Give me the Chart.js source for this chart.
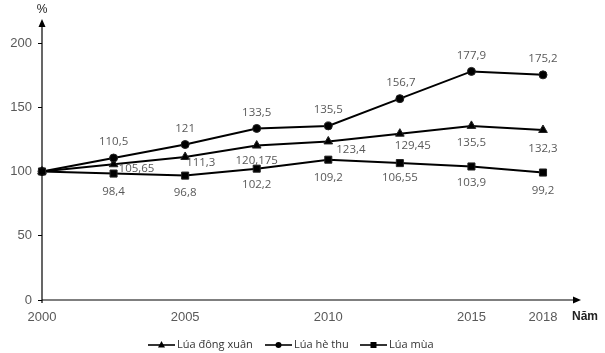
<!DOCTYPE html>
<html>
<head>
<meta charset="utf-8">
<script src="https://cdn.jsdelivr.net/npm/chart.js@4"></script>
<style>
html,body{margin:0;padding:0;background:#fff;}
#wrap{width:605px;height:353px;position:relative;}
</style>
</head>
<body>
<div id="wrap"><canvas id="c" width="605" height="353"></canvas></div>
<script>
// ---- data ----
const categories = ['2000', '', '2005', '', '2010', '', '2015', '2018'];
const yTicks = [0, 50, 100, 150, 200];
const seriesNames = ['Lúa đông xuân', 'Lúa hè thu', 'Lúa mùa'];
const dongXuan = [100, 105.65, 111.3, 120.175, 123.4, 129.45, 135.5, 132.3];
const heThu = [100, 110.5, 121, 133.5, 135.5, 156.7, 177.9, 175.2];
const luaMua = [100, 98.4, 96.8, 102.2, 109.2, 106.55, 103.9, 99.2];
const yUnit = '%';
const xUnit = 'Năm';

const fmt = v => String(v).replace('.', ',');
const labelFont = '11.5px "Open Sans", sans-serif';
const labelColor = '#595959';

// label placement per series: [align, dx, dy] per point (style only)
const placements = [
  [null, ['left', 5, 4], ['left', 1, 6], ['center', 0, 15], ['left', 8, 8], ['left', -5, 12], ['center', 0, 17], ['center', 0, 19]],
  [null, ['center', 0, -16], ['center', 0, -16], ['center', 0, -16], ['center', 0, -16], ['center', 1, -16], ['center', 0, -16], ['center', 0, -16]],
  [null, ['center', 0, 18], ['center', 0, 17], ['center', 0, 16], ['center', 0, 18], ['center', 0, 15], ['center', 0, 16], ['center', 0, 18]]
];

const dataLabels = {
  id: 'dataLabels',
  afterDatasetsDraw(chart) {
    const ctx = chart.ctx;
    ctx.save();
    ctx.font = labelFont;
    ctx.fillStyle = labelColor;
    ctx.textBaseline = 'middle';
    chart.data.datasets.forEach((ds, di) => {
      const meta = chart.getDatasetMeta(di);
      meta.data.forEach((pt, i) => {
        const p = placements[di][i];
        if (!p) return;
        ctx.textAlign = p[0];
        ctx.fillText(fmt(ds.data[i]), pt.x + p[1], pt.y + p[2]);
      });
    });
    ctx.restore();
  }
};

const axesDecor = {
  id: 'axesDecor',
  afterDraw(chart) {
    const ctx = chart.ctx;
    const a = chart.chartArea;
    ctx.save();
    ctx.strokeStyle = '#000';
    ctx.fillStyle = '#000';
    ctx.lineWidth = 1.2;
    // y axis extension + arrow
    ctx.beginPath();
    ctx.moveTo(a.left, a.bottom + 3);
    ctx.lineTo(a.left, 26);
    ctx.stroke();
    ctx.beginPath();
    ctx.moveTo(a.left, 19);
    ctx.lineTo(a.left - 3.5, 27);
    ctx.lineTo(a.left + 3.5, 27);
    ctx.closePath();
    ctx.fill();
    // x axis extension + arrow
    ctx.beginPath();
    ctx.moveTo(a.left, a.bottom);
    ctx.lineTo(574, a.bottom);
    ctx.stroke();
    ctx.beginPath();
    ctx.moveTo(581, a.bottom);
    ctx.lineTo(573, a.bottom - 3.5);
    ctx.lineTo(573, a.bottom + 3.5);
    ctx.closePath();
    ctx.fill();
    // unit labels
    ctx.fillStyle = '#222';
    ctx.font = '12px "Liberation Sans", Arial, sans-serif';
    ctx.textAlign = 'center';
    ctx.textBaseline = 'middle';
    ctx.fillText(yUnit, a.left, 10);
    ctx.font = 'bold 12px "Liberation Sans", Arial, sans-serif';
    ctx.textAlign = 'left';
    ctx.fillText(xUnit, 572, 317);

    // legend
    const items = [
      {x: 148, style: 'triangle'},
      {x: 265, style: 'circle'},
      {x: 360, style: 'rect'}
    ];
    const ly = 345;
    ctx.font = '11px "Open Sans", sans-serif';
    ctx.textBaseline = 'middle';
    items.forEach((it, k) => {
      ctx.strokeStyle = '#000';
      ctx.lineWidth = 1.6;
      ctx.beginPath();
      ctx.moveTo(it.x, ly);
      ctx.lineTo(it.x + 27, ly);
      ctx.stroke();
      ctx.fillStyle = '#000';
      const cx = it.x + 13.5;
      ctx.beginPath();
      if (it.style === 'triangle') {
        ctx.moveTo(cx, ly - 4); ctx.lineTo(cx - 3.5, ly + 2.5); ctx.lineTo(cx + 3.5, ly + 2.5); ctx.closePath();
      } else if (it.style === 'circle') {
        ctx.arc(cx, ly, 3, 0, Math.PI * 2);
      } else {
        ctx.rect(cx - 3, ly - 3, 6, 6);
      }
      ctx.fill();
      ctx.fillStyle = '#333';
      ctx.textAlign = 'left';
      ctx.fillText(seriesNames[k], it.x + 29, ly);
    });
    ctx.restore();
  }
};

const mk = (label, data, style, radius, order) => ({
  label, data,
  borderColor: '#000', backgroundColor: '#000',
  borderWidth: 2,
  pointStyle: style, pointRadius: radius, pointBorderWidth: 1,
  pointBackgroundColor: '#000', pointBorderColor: '#222',
  tension: 0, order
});

new Chart(document.getElementById('c'), {
  type: 'line',
  data: {
    labels: categories,
    datasets: [
      mk(seriesNames[0], dongXuan, 'triangle', 5, 2),
      mk(seriesNames[1], heThu, 'circle', 4, 1),
      mk(seriesNames[2], luaMua, 'rect', 5, 0)
    ]
  },
  options: {
    responsive: false,
    animation: false,
    events: [],
    layout: {padding: {left: 0, right: 62, top: 43, bottom: 0}},
    plugins: {legend: {display: false}, tooltip: {enabled: false}},
    scales: {
      x: {
        type: 'category',
        offset: false,
        grid: {display: false, drawTicks: false},
        border: {display: false},
        ticks: {
          autoSkip: false, maxRotation: 0, padding: 10,
          color: '#595959',
          font: {family: '"Liberation Sans", Arial, sans-serif', size: 13}
        },
        afterFit(s) { s.height = 53; }
      },
      y: {
        min: 0, max: 200,
        afterBuildTicks(s) { s.ticks = yTicks.map(v => ({value: v})); },
        grid: {display: true, drawOnChartArea: false, drawTicks: true, tickLength: 4, color: '#000', lineWidth: 1},
        border: {display: false},
        ticks: {
          padding: 6, color: '#595959',
          font: {family: '"Liberation Sans", Arial, sans-serif', size: 13}
        },
        afterFit(s) { s.width = 42; }
      }
    }
  },
  plugins: [dataLabels, axesDecor]
});
</script>
</body>
</html>
